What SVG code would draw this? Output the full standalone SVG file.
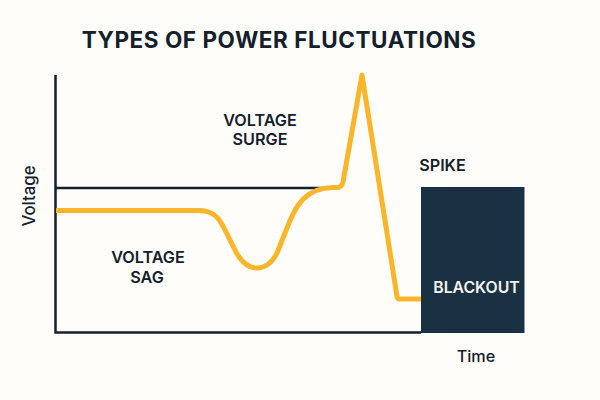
<svg xmlns="http://www.w3.org/2000/svg" width="600" height="400" viewBox="0 0 600 400">
<style>
text{font-family:Inter,"Liberation Sans",sans-serif;fill:#14202c;font-weight:600;text-anchor:middle}
.lab{font-size:16.2px}
.ax{font-size:16.2px;font-weight:500}
.line{fill:none;stroke:#14202c;stroke-width:2.5}
.curve{fill:none;stroke:#fbb52b;stroke-width:5;stroke-linejoin:round;stroke-linecap:butt}
</style>
<rect width="600" height="400" fill="#fefdfa"/>
<g id="connectors">
<path class="line" d="M55.5 75V332.5H421"/>
<path class="line" d="M55.5 188H330"/>
<path class="curve" d="M56 210.500H198C212 210.500 218 216 224 228L235 250C241 262 248 268 257 268C266 268 272 263 277 253L287 228C296 204 306 188 333 187.500H337C340 187.500 342 186 343 182L362 75L397 296.500Q397.500 299 400 299H422"/>
</g>
<text id="title" x="279" y="47.500" style="font-size:22.500px;font-weight:700;letter-spacing:.55px">TYPES OF POWER FLUCTUATIONS</text>
<g id="blackout"><rect x="421" y="187" width="103.500" height="146" fill="#1a3144"/>
<text x="476.500" y="293" class="lab" style="fill:#f5f3ee;font-size:15.800px">BLACKOUT</text></g>
<g id="surge"><text x="260" y="126" class="lab">VOLTAGE</text><text x="260" y="145" class="lab">SURGE</text></g>
<g id="sag"><text x="148" y="263" class="lab">VOLTAGE</text><text x="147" y="283" class="lab">SAG</text></g>
<g id="spike"><text x="442.500" y="171" class="lab">SPIKE</text></g>
<text x="476" y="362" class="ax">Time</text>
<text transform="translate(35 196) rotate(-90)" class="ax" style="font-size:16.800px">Voltage</text>
</svg>
